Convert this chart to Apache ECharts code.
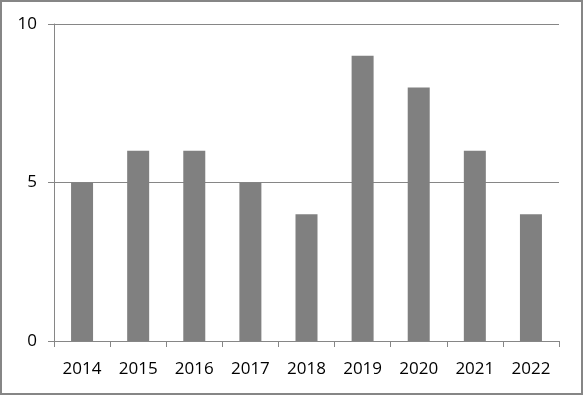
<!DOCTYPE html>
<html>
<head>
<meta charset="utf-8">
<script src="https://cdn.jsdelivr.net/npm/echarts@6/dist/echarts.min.js"></script>
<style>
html,body{margin:0;padding:0;background:#fff;}
#frame{position:absolute;left:0;top:0;width:583px;height:395px;box-sizing:border-box;border:2px solid #868686;}
#chart{position:absolute;left:0;top:0;width:583px;height:395px;}
</style>
</head>
<body>
<div id="frame"></div>
<div id="chart"></div>
<script>
const categories = ['2014','2015','2016','2017','2018','2019','2020','2021','2022'];
const values = [5, 6, 6, 5, 4, 9, 8, 6, 4];
const yTicks = [0, 5, 10];

const chart = echarts.init(document.getElementById('chart'), null, {renderer: 'canvas'});
const font = '"Open Sans", sans-serif';
chart.setOption({
  animation: false,
  grid: {left: 54, right: 24, top: 24, bottom: 54, containLabel: false},
  xAxis: {
    type: 'category',
    data: categories,
    axisLine: {show: true, lineStyle: {color: '#868686', width: 1}},
    axisTick: {show: true, length: 6, alignWithLabel: false, lineStyle: {color: '#868686'}},
    axisLabel: {color: '#000', fontFamily: font, fontSize: 17, margin: 20}
  },
  yAxis: {
    type: 'value',
    min: yTicks[0],
    max: yTicks[yTicks.length - 1],
    interval: 5,
    axisLine: {show: true, lineStyle: {color: '#868686', width: 1}},
    axisTick: {show: true, length: 6, lineStyle: {color: '#868686'}},
    splitLine: {show: true, lineStyle: {color: '#868686', width: 1}},
    axisLabel: {color: '#000', fontFamily: font, fontSize: 17, margin: 17}
  },
  series: [{
    type: 'bar',
    data: values,
    barWidth: 22,
    itemStyle: {color: '#808080'}
  }]
});
</script>
</body>
</html>
